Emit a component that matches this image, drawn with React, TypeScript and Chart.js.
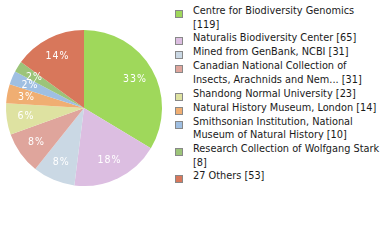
import React, { useEffect, useRef } from "react";
import { Chart, registerables } from "chart.js";

Chart.register(...registerables);

const labels: string[] = [
  "Centre for Biodiversity Genomics",
  "Naturalis Biodiversity Center",
  "Mined from GenBank, NCBI",
  "Canadian National Collection of Insects, Arachnids and Nem...",
  "Shandong Normal University",
  "Natural History Museum, London",
  "Smithsonian Institution, National Museum of Natural History",
  "Research Collection of Wolfgang Stark",
  "27 Others",
];
const counts: number[] = [119, 65, 31, 31, 23, 14, 10, 8, 53];
const colors: string[] = [
  "#9fd85b",
  "#dcbee1",
  "#cad8e4",
  "#dfa59c",
  "#dee2a1",
  "#f0ae72",
  "#9fbfe2",
  "#9cc479",
  "#d8775b",
];

const FONT = "'DejaVu Sans', Verdana, sans-serif";

const pctPlugin = {
  id: "pctLabels",
  afterDatasetsDraw(chart: any) {
    const ctx = chart.ctx;
    const meta = chart.getDatasetMeta(0);
    const data: number[] = chart.data.datasets[0].data;
    const total = data.reduce((a, b) => a + b, 0);
    ctx.save();
    ctx.fillStyle = "#ffffff";
    ctx.font = "10.5px 'DejaVu Sans Condensed', 'DejaVu Sans', sans-serif";
    ctx.textAlign = "center";
    ctx.textBaseline = "middle";
    try {
      (ctx as any).letterSpacing = "1px";
    } catch (e) {}
    meta.data.forEach((arc: any, i: number) => {
      const p = arc.getProps(["startAngle", "endAngle", "outerRadius", "x", "y"], true);
      const mid = (p.startAngle + p.endAngle) / 2;
      const r = p.outerRadius * 0.75;
      const x = p.x + Math.cos(mid) * r;
      const y = p.y + Math.sin(mid) * r;
      const pct = Math.floor((data[i] / total) * 100);
      ctx.fillText(pct + "%", x, y);
    });
    ctx.restore();
  },
};

export default function App() {
  const ref = useRef<HTMLCanvasElement>(null);
  useEffect(() => {
    document.body.style.margin = "0";
    const chart = new Chart(ref.current!, {
      type: "pie",
      data: {
        labels,
        datasets: [
          {
            data: counts,
            backgroundColor: colors,
            borderWidth: 0,
          },
        ],
      },
      options: {
        responsive: false,
        animation: false,
        layout: { padding: { left: 6, right: 6, top: 30, bottom: 30 } },
        plugins: {
          legend: { display: false },
          tooltip: { enabled: false },
        },
      },
      plugins: [pctPlugin],
    });
    return () => chart.destroy();
  }, []);

  return (
    <div
      style={{
        position: "fixed",
        left: 0,
        top: 0,
        width: 380,
        height: 240,
        background: "#fff",
        overflow: "hidden",
      }}
    >
      <canvas
        ref={ref}
        width={168}
        height={216}
        style={{ position: "absolute", left: 0, top: 0, width: 168, height: 216 }}
      />
      <div
        style={{
          position: "absolute",
          left: 175,
          top: 4,
          width: 205,
          fontFamily: FONT,
          fontSize: 9.75,
          lineHeight: "13.67px",
          color: "#1a1a1a",
        }}
      >
        {labels.map((l, i) => (
          <div key={i} style={{ display: "flex", alignItems: "flex-start" }}>
            <div
              style={{
                width: 6,
                height: 6,
                marginTop: 6,
                border: "1px solid #888",
                background: colors[i],
                flex: "0 0 auto",
              }}
            />
            <div style={{ marginLeft: 10, width: 188 }}>
              {l} [{counts[i]}]
            </div>
          </div>
        ))}
      </div>
    </div>
  );
}
